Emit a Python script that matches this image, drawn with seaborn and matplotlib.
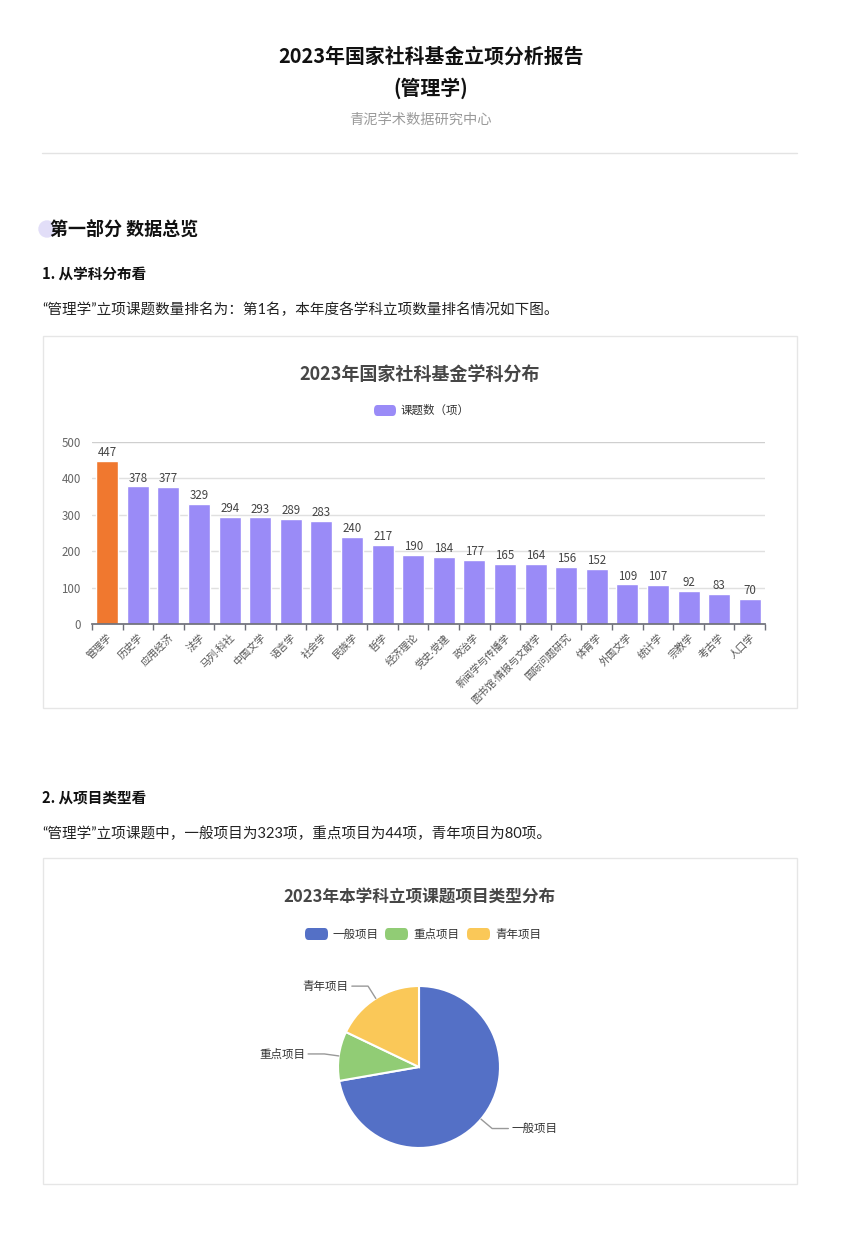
import matplotlib
matplotlib.use("Agg")
import matplotlib.pyplot as plt
import seaborn as sns
import numpy as np
import pandas as pd
from matplotlib.patches import FancyBboxPatch, Rectangle, Ellipse
from matplotlib.lines import Line2D

# ---------------- data ----------------
subjects = ["管理学", "历史学", "应用经济", "法学", "马列·科社", "中国文学", "语言学", "社会学",
            "民族学", "哲学", "经济理论", "党史·党建", "政治学", "新闻学与传播学",
            "图书馆·情报与文献学", "国际问题研究", "体育学", "外国文学", "统计学", "宗教学",
            "考古学", "人口学"]
counts = [447, 378, 377, 329, 294, 293, 289, 283, 240, 217, 190, 184, 177, 165, 164,
          156, 152, 109, 107, 92, 83, 70]
highlight = "管理学"
y_ticks = [0, 100, 200, 300, 400, 500]

pie_labels = ["一般项目", "重点项目", "青年项目"]
pie_values = [323, 44, 80]

# ---------------- style ----------------
sns.set_theme(style="white")
plt.rcParams['font.family'] = ['Noto Sans CJK SC', 'DejaVu Sans']
plt.rcParams['axes.unicode_minus'] = False
LATIN_FIRST = ['Lato', 'Noto Sans CJK SC', 'DejaVu Sans']

W, H = 862, 1237
fig = plt.figure(figsize=(W / 100, H / 100), dpi=100)
fig.patch.set_facecolor("white")


def fx(px):
    return px / W


def fy(py):
    return 1 - py / H


PURPLE = "#9a8bf7"
ORANGE = "#f0782f"
PIE_COLORS = ["#5470c6", "#91cc75", "#fac858"]

# ---------------- page header ----------------
fig.text(fx(431), fy(56), "2023年国家社科基金立项分析报告", ha="center", va="center",
         fontsize=14.3, fontweight="bold", color="#111111")
fig.text(fx(431), fy(88), "(管理学)", ha="center", va="center",
         fontsize=14.3, fontweight="bold", color="#111111")
fig.text(fx(420), fy(120), "青泥学术数据研究中心", ha="center", va="center",
         fontsize=10.3, color="#9a9a9a")
fig.add_artist(Line2D([fx(42), fx(797)], [fy(153), fy(153)], color="#e3e3e3", lw=1))

# section heading
fig.add_artist(Ellipse((fx(47), fy(229)), 16 / W, 16 / H, color="#e2def8",
                       transform=fig.transFigure, zorder=0))
fig.text(fx(50), fy(229), "第一部分 数据总览", ha="left", va="center",
         fontsize=13, fontweight="bold", color="#111111")
fig.text(fx(42), fy(274), "1. 从学科分布看", ha="left", va="center",
         fontsize=10.5, fontweight="bold", color="#111111")
fig.text(fx(42), fy(310), "“管理学”立项课题数量排名为：第1名，本年度各学科立项数量排名情况如下图。",
         ha="left", va="center", fontsize=10.5, color="#222222", family=LATIN_FIRST)

fig.text(fx(42), fy(798), "2. 从项目类型看", ha="left", va="center",
         fontsize=10.5, fontweight="bold", color="#111111")
fig.text(fx(42), fy(834), "“管理学”立项课题中，一般项目为323项，重点项目为44项，青年项目为80项。",
         ha="left", va="center", fontsize=10.5, color="#222222", family=LATIN_FIRST)

# chart boxes
for (x0, y0, x1, y1) in [(43, 336, 797, 708), (43, 858, 797, 1184)]:
    fig.add_artist(Rectangle((fx(x0), fy(y1)), fx(x1) - fx(x0), fy(y0) - fy(y1),
                             transform=fig.transFigure, fill=False,
                             edgecolor="#e6e6e6", lw=1))

# ---------------- bar chart ----------------
fig.text(fx(420), fy(375), "2023年国家社科基金学科分布", ha="center", va="center",
         fontsize=13, fontweight="bold", color="#464646")
fig.add_artist(FancyBboxPatch((fx(374), fy(416)), fx(22), 11 / H,
                              boxstyle="round,pad=0,rounding_size=0.004",
                              transform=fig.transFigure, color=PURPLE, lw=0))
fig.text(fx(400), fy(410), "课题数（项）", ha="left", va="center",
         fontsize=8.3, color="#333333")

ax = fig.add_axes([fx(92), fy(624), fx(765) - fx(92), fy(442) - fy(624)])
df = pd.DataFrame({"subject": subjects, "count": counts})
df["grp"] = np.where(df["subject"] == highlight, "hi", "lo")
sns.barplot(data=df, x="subject", y="count", hue="grp",
            palette={"hi": ORANGE, "lo": PURPLE}, dodge=False, width=0.72,
            saturation=1, legend=False, ax=ax)
ax.set_xlim(-0.5, len(subjects) - 0.5)
ax.set_ylim(0, 500)
ax.set_yticks(y_ticks)
ax.set_yticklabels([str(t) for t in y_ticks], fontsize=8.3, color="#666666")
for t in y_ticks[1:]:
    ax.axhline(t, color="#cfcfcf" if t == 500 else "#e0e0e0", lw=1, zorder=0)
ax.set_xlabel("")
ax.set_ylabel("")
for s in ["top", "right", "left"]:
    ax.spines[s].set_visible(False)
ax.spines["bottom"].set_color("#6e7079")
ax.set_xticks(range(len(subjects)))
ax.set_xticklabels(subjects, rotation=45, ha="right", rotation_mode="anchor",
                   fontsize=7.3, color="#555555", family=LATIN_FIRST)
ax.set_xticks(np.arange(-0.5, len(subjects), 1.0), minor=True)
ax.tick_params(axis="x", which="major", length=0, pad=6)
ax.tick_params(axis="x", which="minor", length=4, color="#6e7079", direction="out", bottom=True)
ax.tick_params(axis="y", length=0, pad=8)
for i, v in enumerate(counts):
    ax.text(i, v + 5, str(v), ha="center", va="bottom", fontsize=8.3, color="#444444")

# ---------------- pie chart ----------------
fig.text(fx(419), fy(898), "2023年本学科立项课题项目类型分布", ha="center", va="center",
         fontsize=12, fontweight="bold", color="#464646")
leg_x = [305, 385, 467]
for lx, lab, col in zip(leg_x, pie_labels, PIE_COLORS):
    fig.add_artist(FancyBboxPatch((fx(lx), fy(940)), fx(23), 12 / H,
                                  boxstyle="round,pad=0,rounding_size=0.004",
                                  transform=fig.transFigure, color=col, lw=0))
    fig.text(fx(lx + 28), fy(934), lab, ha="left", va="center", fontsize=8.3, color="#333333")

R = 81
cx, cy = 419, 1067
pax = fig.add_axes([fx(cx - R), fy(cy + R), fx(2 * R), 2 * R / H])
wedges, _ = pax.pie(pie_values, colors=PIE_COLORS, startangle=90, counterclock=False,
                    radius=1.0, wedgeprops=dict(edgecolor="white", linewidth=1.5))
pax.set_xlim(-1, 1)
pax.set_ylim(-1, 1)
pax.set_aspect("equal")
pax.axis("off")
for w, lab in zip(wedges, pie_labels):
    ang = np.deg2rad((w.theta1 + w.theta2) / 2)
    ca, sa = np.cos(ang), np.sin(ang)
    p1 = (1.0 * ca, 1.0 * sa)
    p2 = (1.18 * ca, 1.18 * sa)
    sgn = 1 if ca >= 0 else -1
    p3 = (p2[0] + sgn * 0.2, p2[1])
    pax.plot([p1[0], p2[0], p3[0]], [p1[1], p2[1], p3[1]], color="#999999", lw=1,
             clip_on=False)
    pax.text(p3[0] + sgn * 0.04, p3[1], lab, ha="left" if sgn > 0 else "right",
             va="center", fontsize=8.3, color="#333333", clip_on=False)

fig.savefig("out.png", dpi=100, facecolor="white")
